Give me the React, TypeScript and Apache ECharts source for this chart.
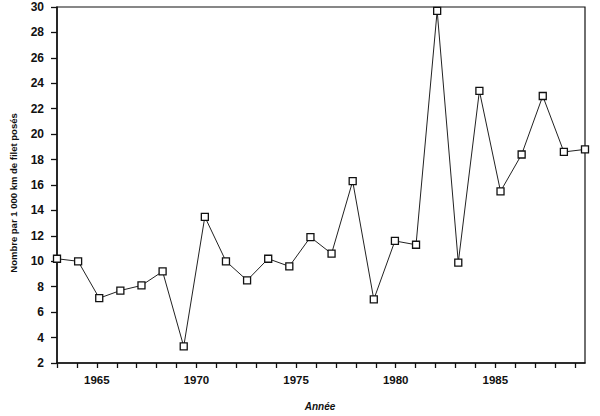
import React, { useEffect, useRef } from "react";
import * as echarts from "echarts";

const years = [1963, 1964, 1965, 1966, 1967, 1968, 1969, 1970, 1971, 1972, 1973, 1974, 1975, 1976, 1977, 1978, 1979, 1980, 1981, 1982, 1983, 1984, 1985, 1986, 1987, 1988];
const values = [10.2, 10.0, 7.1, 7.7, 8.1, 9.2, 3.3, 13.5, 10.0, 8.5, 10.2, 9.6, 11.9, 10.6, 16.3, 7.0, 11.6, 11.3, 29.7, 9.9, 23.4, 15.5, 18.4, 23.0, 18.6, 18.8];
const yTicks = { min: 2, max: 30, step: 2 };
const xTicks = { min: 1963, max: 1989.5, step: 1, labelEvery: 5 };
const yTitle = "Nombre par 1 000 km de filet posés";
const xTitle = "Année";

export default function App() {
  const ref = useRef<HTMLDivElement>(null);
  useEffect(() => {
    if (!ref.current) return;
    const chart = echarts.init(ref.current, null, { renderer: "svg" });
    const font = "'Liberation Sans', Arial, sans-serif";
    chart.setOption({
      animation: false,
      backgroundColor: "#ffffff",
      grid: {
        left: 57,
        right: 15,
        top: 7,
        bottom: 53,
        show: true,
        borderColor: "#111",
        borderWidth: 1.2,
        containLabel: false,
      },
      xAxis: [
        {
          type: "value",
          min: xTicks.min,
          max: xTicks.max,
          interval: xTicks.step,
          axisLine: { show: true, onZero: false, lineStyle: { color: "#111", width: 1.5 } },
          axisTick: { show: true, length: 5, inside: false, lineStyle: { color: "#111", width: 1.3 } },
          axisLabel: {
            show: true,
            margin: 11,
            color: "#111",
            fontFamily: font,
            fontWeight: "bold",
            fontSize: 11.5,
            showMaxLabel: false,
            formatter: (v: number) => (Math.abs(v % xTicks.labelEvery) < 1e-6 ? String(Math.round(v)) : ""),
          },
          splitLine: { show: false },
        },
        {
          type: "value",
          min: years[0],
          max: years[years.length - 1],
          show: false,
        },
      ],
      yAxis: {
        type: "value",
        min: yTicks.min,
        max: yTicks.max,
        interval: yTicks.step,
        axisLine: { show: true, onZero: false, lineStyle: { color: "#111", width: 1.5 } },
        axisTick: { show: true, length: 6, inside: false, lineStyle: { color: "#111", width: 1.3 } },
        axisLabel: {
          color: "#111",
          margin: 13,
          fontFamily: font,
          fontWeight: "bold",
          fontSize: 12,
        },
        splitLine: { show: false },
      },
      graphic: [
        {
          type: "text",
          x: 13,
          y: 193,
          rotation: Math.PI / 2,
          style: {
            text: yTitle,
            fill: "#111",
            font: `bold 9.5px ${font}`,
            align: "center",
            verticalAlign: "middle",
          },
        },
        {
          type: "text",
          x: 320,
          y: 406,
          style: {
            text: xTitle,
            fill: "#111",
            font: `italic bold 10px ${font}`,
            align: "center",
            verticalAlign: "middle",
          },
        },
      ],
      series: [
        {
          type: "line",
          xAxisIndex: 1,
          data: years.map((y, i) => [y, values[i]]),
          symbol: "rect",
          symbolSize: 7,
          lineStyle: { color: "#222", width: 1 },
          itemStyle: { color: "#fff", borderColor: "#111", borderWidth: 1.3 },
          clip: false,
        },
      ],
    });
    return () => chart.dispose();
  }, []);
  return (
    <div
      ref={ref}
      style={{ position: "fixed", left: 0, top: 0, width: 600, height: 416, background: "#fff" }}
    />
  );
}
